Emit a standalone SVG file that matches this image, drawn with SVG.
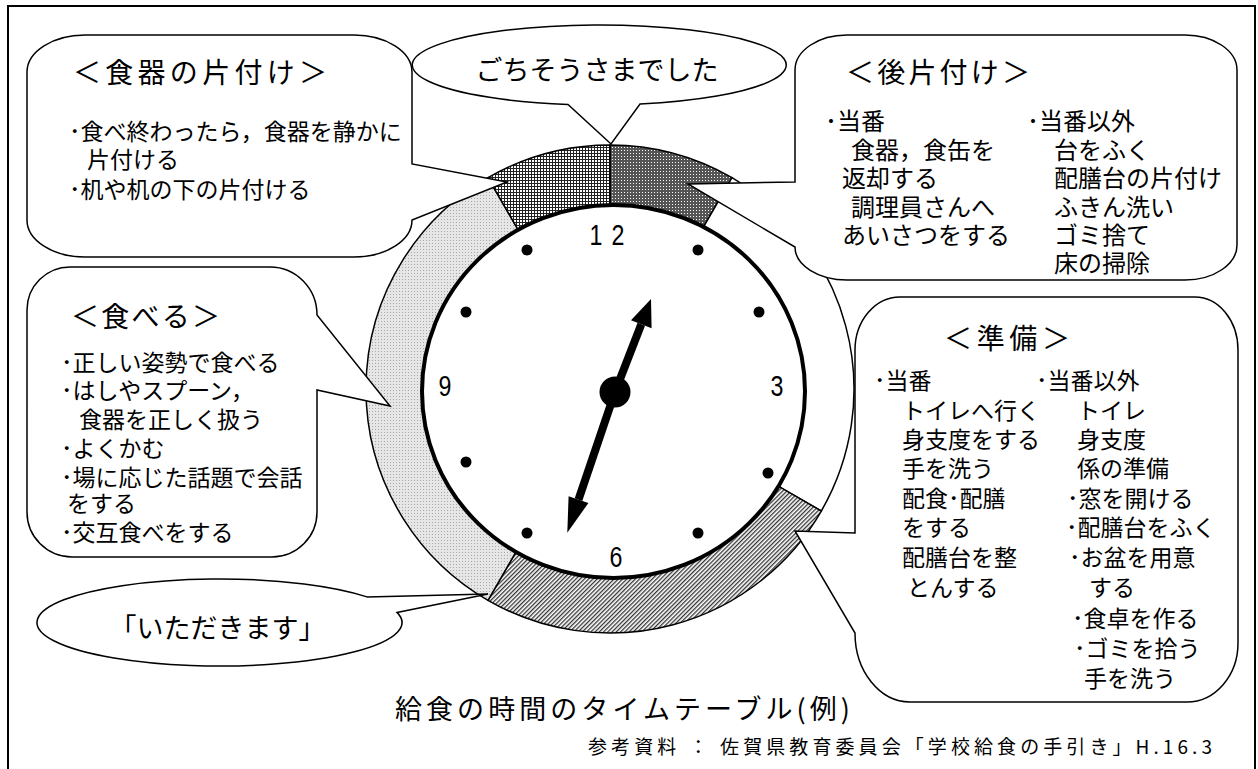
<svg xmlns="http://www.w3.org/2000/svg" width="1258" height="769" viewBox="0 0 1258 769">
<style>
.jp{font-family:"Noto Sans CJK JP","Noto Sans CJK SC",sans-serif;fill:#000}
.b{font-size:23px}
.b3{font-size:24px}
.h{font-size:28px}
.num{font-family:"Liberation Sans",Arial,sans-serif;font-size:29px;fill:#000;text-anchor:middle}
.co{fill:#fff;stroke:#000;stroke-width:1.5;stroke-linejoin:miter}
.seg{stroke:#000;stroke-width:1.5}
</style>
<defs>
<pattern id="pGrid" width="3" height="3" patternUnits="userSpaceOnUse">
<rect width="3" height="3" fill="#fff"/>
<path d="M0 0.5H3M0.5 0V3" stroke="#222" stroke-width="1"/>
</pattern>
<pattern id="pDark" width="3" height="3" patternUnits="userSpaceOnUse">
<rect width="3" height="3" fill="#555"/>
<rect width="1" height="1" fill="#fff"/>
</pattern>
<pattern id="pLight" width="3" height="3" patternUnits="userSpaceOnUse">
<rect width="3" height="3" fill="#e6e6e6"/>
<rect width="1" height="1" fill="#a8a8a8"/>
</pattern>
<pattern id="pHatch" width="3" height="3" patternUnits="userSpaceOnUse" patternTransform="rotate(45)">
<rect width="3" height="3" fill="#fff"/>
<rect width="1.3" height="3" fill="#333"/>
</pattern>
</defs>
<rect width="1258" height="769" fill="#fff"/>
<rect id="frame" x="8" y="6" width="1247" height="800" fill="none" stroke="#000" stroke-width="2"/>

<g id="clock">
<path class="seg" fill="url(#pDark)" d="M610,389 L610,145 A244,244 0 0 1 732,177.69 Z"/>
<path class="seg" fill="#fff" d="M610,389 L732,177.69 A244,244 0 0 1 821.31,511 Z"/>
<path class="seg" fill="url(#pHatch)" d="M610,389 L821.31,511 A244,244 0 0 1 488,600.31 Z"/>
<path class="seg" fill="url(#pLight)" d="M610,389 L488,600.31 A244,244 0 0 1 488,177.69 Z"/>
<path class="seg" fill="url(#pGrid)" d="M610,389 L488,177.69 A244,244 0 0 1 610,145 Z"/>
<ellipse cx="613.5" cy="391.5" rx="191.5" ry="186.5" fill="#fff" stroke="#000" stroke-width="4"/>
<g fill="#000">
<circle cx="527" cy="250" r="5.5"/><circle cx="698" cy="250" r="5.5"/>
<circle cx="466" cy="312" r="5.5"/><circle cx="759" cy="312" r="5.5"/>
<circle cx="466" cy="462" r="5.5"/><circle cx="768" cy="473" r="5.5"/>
<circle cx="527" cy="533" r="5.5"/><circle cx="698" cy="533" r="5.5"/>
</g>
<text class="num" transform="translate(596,245) scale(0.8,1)">1</text>
<text class="num" transform="translate(618,245) scale(0.8,1)">2</text>
<text class="num" transform="translate(777,396) scale(0.8,1)">3</text>
<text class="num" transform="translate(616,567) scale(0.8,1)">6</text>
<text class="num" transform="translate(445,396) scale(0.8,1)">9</text>
</g>

<g id="hands">
<line x1="615" y1="392" x2="641.3" y2="324.2" stroke="#000" stroke-width="8"/>
<polygon points="651,299 651.6,328.2 631,320.2" fill="#000"/>
<line x1="615" y1="392" x2="578.5" y2="499.6" stroke="#000" stroke-width="8"/>
<polygon points="567.3,532.7 588.4,503 568.6,496.2" fill="#000"/>
<circle cx="615" cy="392" r="15.5" fill="#000"/>
</g>

<g id="node-katazuke">
<path class="co" d="M85,35 H354 A58,37 0 0 1 412,72 V164 L507,182 L412,220 A58,37 0 0 1 354,257 H85 A58,37 0 0 1 27,220 V72 A58,37 0 0 1 85,35 Z"/>
<text class="jp h" x="73" y="83" textLength="254" lengthAdjust="spacing">＜食器の片付け＞</text>
<text class="jp b"><tspan x="69" y="140">･食べ終わったら，食器を静かに</tspan><tspan x="87" y="168">片付ける</tspan><tspan x="69" y="198">･机や机の下の片付ける</tspan></text>
</g>

<g id="node-gochisou">
<path class="co" d="M568,104.4 A187,40 0 1 1 640,104 L611,144 Z"/>
<text class="jp" x="597" y="80" font-size="27" text-anchor="middle">ごちそうさまでした</text>
</g>

<g id="node-atokatazuke">
<path class="co" d="M847,35 H1185 A52,35 0 0 1 1237,70 V245 A52,35 0 0 1 1185,280 H847 A52,33 0 0 1 795,247 L688,184 L795,182 V70 A52,35 0 0 1 847,35 Z"/>
<text class="jp h" x="846" y="83" textLength="184" lengthAdjust="spacing">＜後片付け＞</text>
<text class="jp b3"><tspan x="825" y="130">･当番</tspan><tspan x="851" y="159">食器，食缶を</tspan><tspan x="842" y="187">返却する</tspan><tspan x="851" y="216">調理員さんへ</tspan><tspan x="842" y="244">あいさつをする</tspan></text>
<text class="jp b3"><tspan x="1027" y="130">･当番以外</tspan><tspan x="1054" y="159">台をふく</tspan><tspan x="1054" y="187">配膳台の片付け</tspan><tspan x="1054" y="216">ふきん洗い</tspan><tspan x="1054" y="244">ゴミ捨て</tspan><tspan x="1054" y="272">床の掃除</tspan></text>
</g>

<g id="node-taberu">
<path class="co" d="M70,267 H270 A47,48 0 0 1 317,315 L390,406 L317,390 V512 A45,45 0 0 1 272,557 H72 A45,45 0 0 1 27,512 V310 A43,43 0 0 1 70,267 Z"/>
<text class="jp h" x="71" y="327" textLength="149" lengthAdjust="spacing">＜食べる＞</text>
<text class="jp b"><tspan x="61" y="371">･正しい姿勢で食べる</tspan><tspan x="61" y="399">･はしやスプーン，</tspan><tspan x="79" y="428">食器を正しく扱う</tspan><tspan x="61" y="457">･よくかむ</tspan><tspan x="61" y="486">･場に応じた話題で会話</tspan><tspan x="67" y="512">をする</tspan><tspan x="61" y="541">･交互食べをする</tspan></text>
</g>

<g id="node-junbi">
<path class="co" d="M900,297 H1195 A43,53 0 0 1 1238,350 V643 A51,59 0 0 1 1187,702 H910 A55,69 0 0 1 855,633 L795,531 L855,533 V350 A45,53 0 0 1 900,297 Z"/>
<text class="jp h" x="944" y="349" textLength="126" lengthAdjust="spacing">＜準備＞</text>
<text class="jp b"><tspan x="874" y="389">･当番</tspan><tspan x="902" y="419">トイレへ行く</tspan><tspan x="902" y="448">身支度をする</tspan><tspan x="902" y="477">手を洗う</tspan><tspan x="902" y="507">配食･配膳</tspan><tspan x="902" y="536">をする</tspan><tspan x="902" y="566">配膳台を整</tspan><tspan x="907" y="596">とんする</tspan></text>
<text class="jp b"><tspan x="1036" y="389">･当番以外</tspan><tspan x="1077" y="419">トイレ</tspan><tspan x="1077" y="448">身支度</tspan><tspan x="1077" y="477">係の準備</tspan><tspan x="1067" y="507">･窓を開ける</tspan><tspan x="1066" y="536">･配膳台をふく</tspan><tspan x="1069" y="566">･お盆を用意</tspan><tspan x="1089" y="596">する</tspan><tspan x="1072" y="627">･食卓を作る</tspan><tspan x="1074" y="657">･ゴミを拾う</tspan><tspan x="1084" y="687">手を洗う</tspan></text>
</g>

<g id="node-itadakimasu">
<path class="co" d="M397,612.4 A182.5,43.5 0 1 1 367,596.9 L488,594 Z"/>
<text class="jp" x="217.5" y="638" font-size="27" text-anchor="middle">「いただきます」</text>
</g>

<g id="caption">
<text class="jp" x="395" y="719" font-size="27" textLength="455" lengthAdjust="spacing">給食の時間のタイムテーブル(例)</text>
<text class="jp" x="588" y="754" font-size="19" textLength="624" lengthAdjust="spacing">参考資料 ： 佐賀県教育委員会「学校給食の手引き」H.16.3</text>
</g>
</svg>
